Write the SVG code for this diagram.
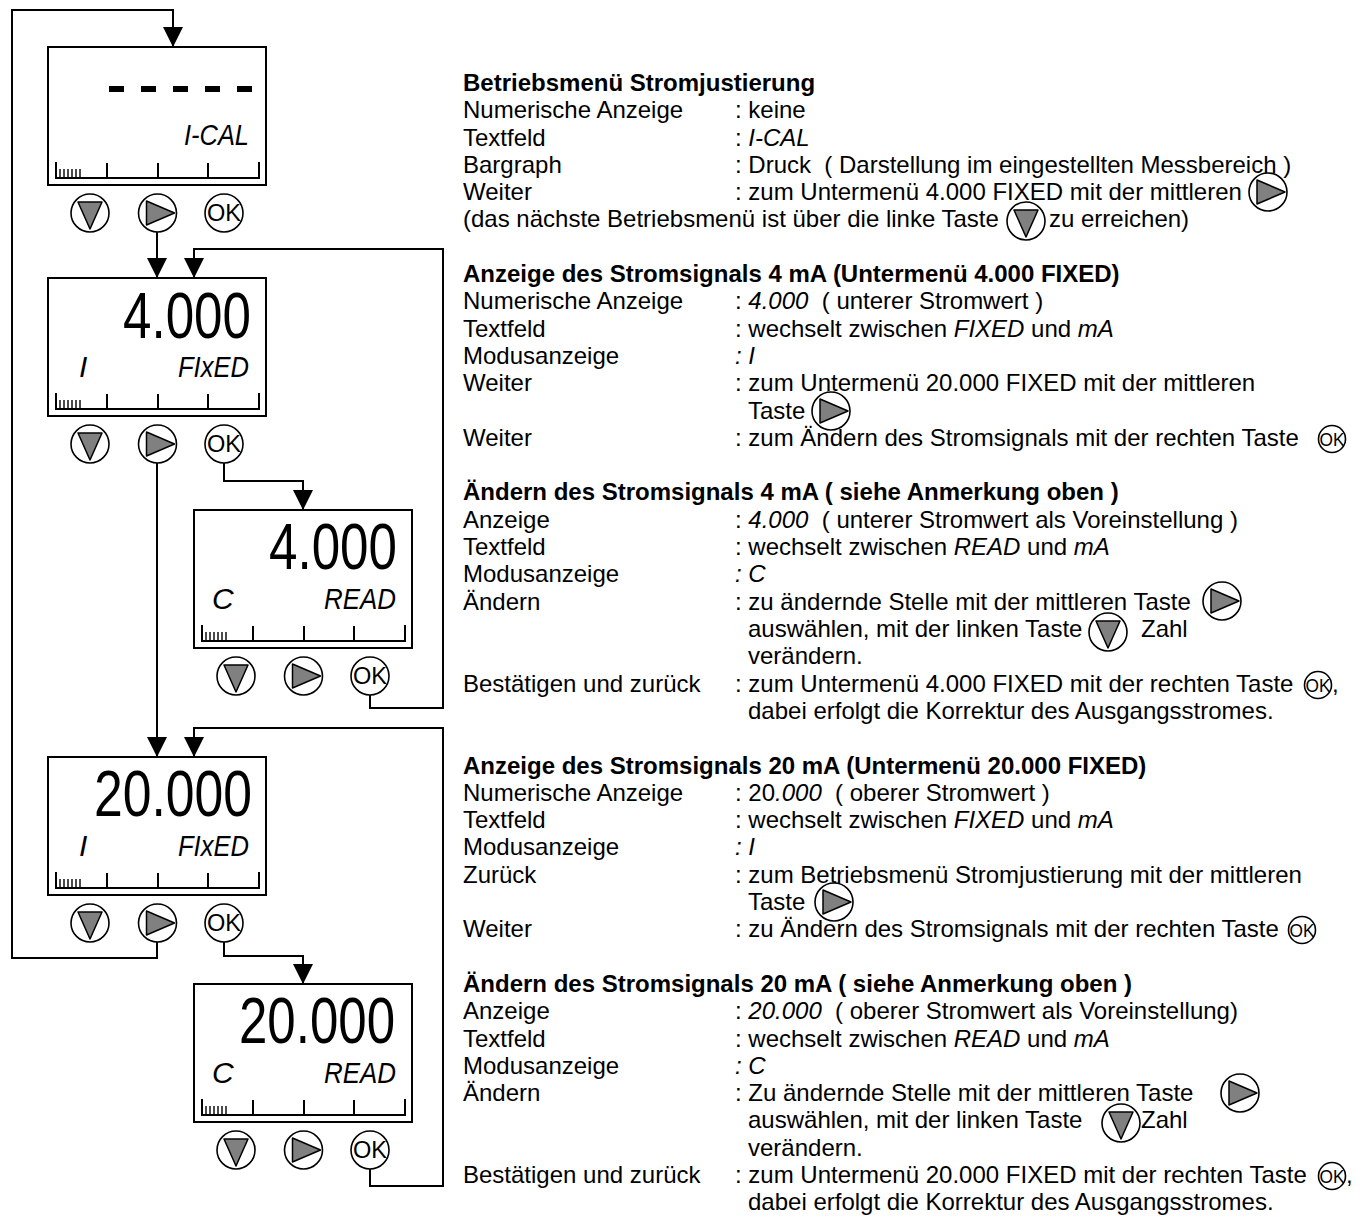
<svg xmlns="http://www.w3.org/2000/svg" xmlns:xlink="http://www.w3.org/1999/xlink" width="1362" height="1221" viewBox="0 0 1362 1221">
<style>
.box{fill:#fff;stroke:#000;stroke-width:2}
.bar{fill:none;stroke:#000;stroke-width:2}
.bars{fill:none;stroke:#000;stroke-width:1.4}
.btn{fill:#fff;stroke:#000;stroke-width:1.6}
.tri{fill:#808080;stroke:#000;stroke-width:1.5;stroke-linejoin:round}
.dash{fill:#000}
.num{font-family:"Liberation Sans",Arial,sans-serif;font-size:64px;fill:#000}
.lcd{font-family:"Liberation Sans",Arial,sans-serif;font-size:30px;font-style:italic;fill:#000}
.okt{font-family:"Liberation Sans",Arial,sans-serif;font-size:23px;fill:#000}
.oks{font-family:"Liberation Sans",Arial,sans-serif;font-size:18px;fill:#000}
.t{font-family:"Liberation Sans",Arial,sans-serif;font-size:24px;fill:#000}
.b{font-weight:bold}
.i{font-style:italic}
.conn{fill:none;stroke:#000;stroke-width:2}
</style>
<defs>
<marker id="arr" markerUnits="userSpaceOnUse" markerWidth="20" markerHeight="20" refX="20" refY="10" orient="auto" viewBox="0 0 20 20">
<path d="M0,0 L20,10 L0,20 Z" fill="#000"/>
</marker>
<g id="btn-down"><circle class="btn" r="19"/><polygon class="tri" points="-12,-11 12,-11 0,16"/></g>
<g id="btn-right"><circle class="btn" r="19"/><polygon class="tri" points="-11,-12 -11,12 17,0"/></g>
<g id="btn-ok"><circle class="btn" r="19"/><text class="okt" x="0" y="8" text-anchor="middle" textLength="34" lengthAdjust="spacingAndGlyphs">OK</text></g>
<g id="ok-s"><circle class="btn" r="13.5"/><text class="oks" x="0" y="6.5" text-anchor="middle" textLength="25" lengthAdjust="spacingAndGlyphs">OK</text></g>
<g id="frame">
<rect class="box" x="0" y="0" width="218" height="138"/>
<path class="bar" d="M8,115 V131 H211 V115 M59,116 V131 M110,116 V131 M160,116 V131"/>
<path class="bars" d="M12,122 V131 M16,122 V131 M20,122 V131 M24,122 V131 M28,122 V131 M32,122 V131"/>
<use xlink:href="#btn-down" x="42" y="166"/>
<use xlink:href="#btn-right" x="109.5" y="166"/>
<use xlink:href="#btn-ok" x="176" y="166"/>
</g>
</defs>
<rect width="1362" height="1221" fill="#fff"/>

<g id="connectors" class="conn">
<path d="M157,941 V958 H12 V10 H173 V47" marker-end="url(#arr)"/>
<path d="M157,232 V278" marker-end="url(#arr)"/>
<path d="M157,463 V757" marker-end="url(#arr)"/>
<path d="M224,463 V481 H303 V510" marker-end="url(#arr)"/>
<path d="M370,695 V708 H443 V249 H194 V278" marker-end="url(#arr)"/>
<path d="M224,942 V956 H303 V984" marker-end="url(#arr)"/>
<path d="M370,1169 V1186 H443 V728 H194 V757" marker-end="url(#arr)"/>
</g>

<g id="node-ical">
<use xlink:href="#frame" x="48" y="47"/>
<rect class="dash" x="109" y="86" width="15" height="6"/>
<rect class="dash" x="141" y="86" width="15" height="6"/>
<rect class="dash" x="173" y="86" width="15" height="6"/>
<rect class="dash" x="205" y="86" width="15" height="6"/>
<rect class="dash" x="237" y="86" width="15" height="6"/>
<text class="lcd" x="184" y="145" textLength="65" lengthAdjust="spacingAndGlyphs">I-CAL</text>
</g>

<g id="node-4fixed">
<use xlink:href="#frame" x="48" y="278"/>
<text class="num" x="123" y="338" textLength="128" lengthAdjust="spacingAndGlyphs">4.000</text>
<text class="lcd" x="79" y="377">I</text>
<text class="lcd" x="178" y="377" textLength="71" lengthAdjust="spacingAndGlyphs">FIxED</text>
</g>

<g id="node-4read">
<use xlink:href="#frame" x="194" y="510"/>
<text class="num" x="269" y="569" textLength="128" lengthAdjust="spacingAndGlyphs">4.000</text>
<text class="lcd" x="212" y="609">C</text>
<text class="lcd" x="324" y="609" textLength="72" lengthAdjust="spacingAndGlyphs">READ</text>
</g>

<g id="node-20fixed">
<use xlink:href="#frame" x="48" y="757"/>
<text class="num" x="94" y="816" textLength="158" lengthAdjust="spacingAndGlyphs">20.000</text>
<text class="lcd" x="79" y="856">I</text>
<text class="lcd" x="178" y="856" textLength="71" lengthAdjust="spacingAndGlyphs">FIxED</text>
</g>

<g id="node-20read">
<use xlink:href="#frame" x="194" y="984"/>
<text class="num" x="239" y="1043" textLength="156" lengthAdjust="spacingAndGlyphs">20.000</text>
<text class="lcd" x="212" y="1083">C</text>
<text class="lcd" x="324" y="1083" textLength="72" lengthAdjust="spacingAndGlyphs">READ</text>
</g>

<g id="text-s1">
<text class="t b" x="463" y="91">Betriebsmenü Stromjustierung</text>
<text class="t" x="463" y="118">Numerische Anzeige</text><text class="t" x="735" y="118">: keine</text>
<text class="t" x="463" y="146">Textfeld</text><text class="t" x="735" y="146">: <tspan class="i">I-CAL</tspan></text>
<text class="t" x="463" y="173">Bargraph</text><text class="t" x="735" y="173">: Druck&#160; ( Darstellung im eingestellten Messbereich )</text>
<text class="t" x="463" y="200">Weiter</text><text class="t" x="735" y="200">: zum Untermenü 4.000 FIXED mit der mittleren</text>
<use xlink:href="#btn-right" x="1268" y="192"/>
<text class="t" x="463" y="227">(das nächste Betriebsmenü ist über die linke Taste</text>
<use xlink:href="#btn-down" x="1026" y="221"/>
<text class="t" x="1049" y="227">zu erreichen)</text>
</g>

<g id="text-s2">
<text class="t b" x="463" y="282">Anzeige des Stromsignals 4 mA (Untermenü 4.000 FIXED)</text>
<text class="t" x="463" y="309">Numerische Anzeige</text><text class="t" x="735" y="309">: <tspan class="i">4.000</tspan>&#160; ( unterer Stromwert )</text>
<text class="t" x="463" y="337">Textfeld</text><text class="t" x="735" y="337">: wechselt zwischen <tspan class="i">FIXED</tspan> und <tspan class="i">mA</tspan></text>
<text class="t" x="463" y="364">Modusanzeige</text><text class="t i" x="735" y="364">: I</text>
<text class="t" x="463" y="391">Weiter</text><text class="t" x="735" y="391">: zum Untermenü 20.000 FIXED mit der mittleren</text>
<text class="t" x="748" y="419">Taste</text>
<use xlink:href="#btn-right" x="831" y="411"/>
<text class="t" x="463" y="446">Weiter</text><text class="t" x="735" y="446">: zum Ändern des Stromsignals mit der rechten Taste</text>
<use xlink:href="#ok-s" x="1332" y="439"/>
</g>

<g id="text-s3">
<text class="t b" x="463" y="500">Ändern des Stromsignals 4 mA ( siehe Anmerkung oben )</text>
<text class="t" x="463" y="528">Anzeige</text><text class="t" x="735" y="528">: <tspan class="i">4.000</tspan>&#160; ( unterer Stromwert als Voreinstellung )</text>
<text class="t" x="463" y="555">Textfeld</text><text class="t" x="735" y="555">: wechselt zwischen <tspan class="i">READ</tspan> und <tspan class="i">mA</tspan></text>
<text class="t" x="463" y="582">Modusanzeige</text><text class="t i" x="735" y="582">: C</text>
<text class="t" x="463" y="610">Ändern</text><text class="t" x="735" y="610">: zu ändernde Stelle mit der mittleren Taste</text>
<use xlink:href="#btn-right" x="1222" y="601"/>
<text class="t" x="748" y="637">auswählen, mit der linken Taste</text>
<use xlink:href="#btn-down" x="1108" y="632"/>
<text class="t" x="1141" y="637">Zahl</text>
<text class="t" x="748" y="664">verändern.</text>
<text class="t" x="463" y="692">Bestätigen und zurück</text><text class="t" x="735" y="692">: zum Untermenü 4.000 FIXED mit der rechten Taste</text>
<use xlink:href="#ok-s" x="1318" y="685"/>
<text class="t" x="1332" y="692">,</text>
<text class="t" x="748" y="719">dabei erfolgt die Korrektur des Ausgangsstromes.</text>
</g>

<g id="text-s4">
<text class="t b" x="463" y="774">Anzeige des Stromsignals 20 mA (Untermenü 20.000 FIXED)</text>
<text class="t" x="463" y="801">Numerische Anzeige</text><text class="t" x="735" y="801">: 20<tspan class="i">.000</tspan>&#160; ( oberer Stromwert )</text>
<text class="t" x="463" y="828">Textfeld</text><text class="t" x="735" y="828">: wechselt zwischen <tspan class="i">FIXED</tspan> und <tspan class="i">mA</tspan></text>
<text class="t" x="463" y="855">Modusanzeige</text><text class="t i" x="735" y="855">: I</text>
<text class="t" x="463" y="883">Zurück</text><text class="t" x="735" y="883">: zum Betriebsmenü Stromjustierung mit der mittleren</text>
<text class="t" x="748" y="910">Taste</text>
<use xlink:href="#btn-right" x="834" y="902"/>
<text class="t" x="463" y="937">Weiter</text><text class="t" x="735" y="937">: zu Ändern des Stromsignals mit der rechten Taste</text>
<use xlink:href="#ok-s" x="1302" y="930"/>
</g>

<g id="text-s5">
<text class="t b" x="463" y="992">Ändern des Stromsignals 20 mA ( siehe Anmerkung oben )</text>
<text class="t" x="463" y="1019">Anzeige</text><text class="t" x="735" y="1019">: <tspan class="i">20.000</tspan>&#160; ( oberer Stromwert als Voreinstellung)</text>
<text class="t" x="463" y="1047">Textfeld</text><text class="t" x="735" y="1047">: wechselt zwischen <tspan class="i">READ</tspan> und <tspan class="i">mA</tspan></text>
<text class="t" x="463" y="1074">Modusanzeige</text><text class="t i" x="735" y="1074">: C</text>
<text class="t" x="463" y="1101">Ändern</text><text class="t" x="735" y="1101">: Zu ändernde Stelle mit der mittleren Taste</text>
<use xlink:href="#btn-right" x="1240" y="1093"/>
<text class="t" x="748" y="1128">auswählen, mit der linken Taste</text>
<use xlink:href="#btn-down" x="1121" y="1123"/>
<text class="t" x="1141" y="1128">Zahl</text>
<text class="t" x="748" y="1156">verändern.</text>
<text class="t" x="463" y="1183">Bestätigen und zurück</text><text class="t" x="735" y="1183">: zum Untermenü 20.000 FIXED mit der rechten Taste</text>
<use xlink:href="#ok-s" x="1332" y="1176"/>
<text class="t" x="1346" y="1183">,</text>
<text class="t" x="748" y="1210">dabei erfolgt die Korrektur des Ausgangsstromes.</text>
</g>
</svg>
